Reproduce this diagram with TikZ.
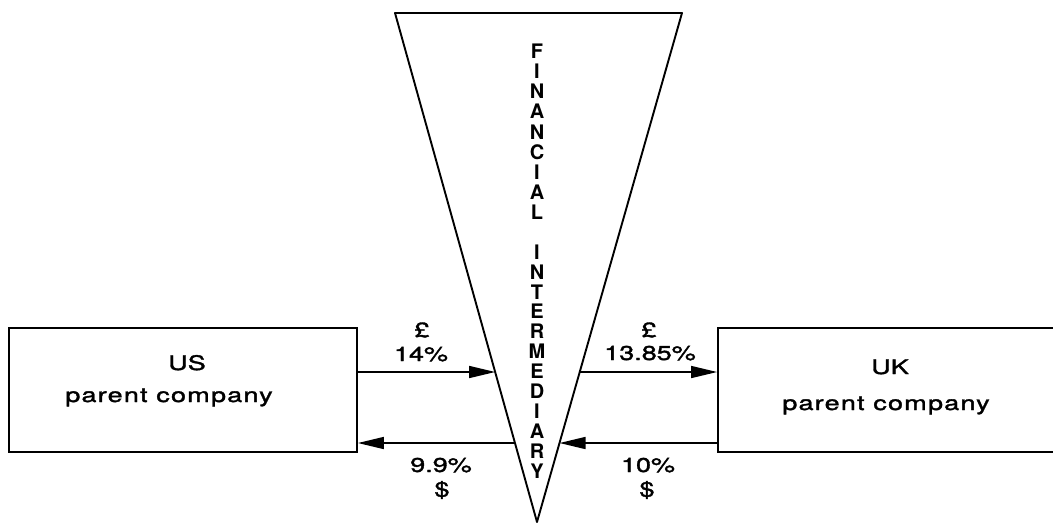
\documentclass[tikz,border=0pt]{standalone}
\usepackage{fontspec}
\setmainfont{TeX Gyre Heros}[FakeStretch=1.35,FakeBold=1.7]
\newfontfamily\pcfont{TeX Gyre Heros}[FakeStretch=1.35,FakeBold=1.7,LetterSpace=6]
\newfontfamily\vfont{TeX Gyre Heros Bold}[FakeStretch=1.0]
\usetikzlibrary{arrows.meta}
\tikzset{
  box/.style={draw, line width=1.8pt, inner sep=0pt, minimum width=348pt, minimum height=124pt},
  lbl/.style={inner sep=0pt, font=\fontsize{20}{24}\selectfont, anchor=base},
  pcl/.style={inner sep=0pt, font=\pcfont\fontsize{20}{24}\selectfont, anchor=base},
  vl/.style={inner sep=0pt, font=\vfont\fontsize{20}{22}\selectfont},
  arr/.style={line width=1.5pt, -{Triangle[length=26pt,width=12pt]}},
  tri/.style={line width=1.9pt, line join=round}
}
\begin{document}
\begin{tikzpicture}[x=1pt,y=-1pt]
\useasboundingbox (0,0) rectangle (1053,524);
% boxes
\node[box] (lbox) at (183,390) {};
\node[box, minimum width=338pt] (rbox) at (887,390) {};
% triangle
\coordinate (tl) at (395,13);
\coordinate (tr) at (682,13);
\coordinate (ap) at (537,522);
\draw[tri] (tl) -- (tr) -- (ap) -- cycle;
% arrow end points on the triangle
\coordinate (u) at (0,372);
\coordinate (u2) at (1000,372);
\coordinate (d) at (0,443);
\coordinate (d2) at (1000,443);
\coordinate (lu) at (intersection of tl--ap and u--u2);
\coordinate (ru) at (intersection of tr--ap and u--u2);
\coordinate (ld) at (intersection of tl--ap and d--d2);
\coordinate (rd) at (intersection of tr--ap and d--d2);
\draw[arr] (lbox.east |- lu) -- (lu);
\draw[arr] (ru) -- (rbox.west |- ru);
\draw[arr] (rbox.west |- rd) -- (rd);
\draw[arr] (ld) -- (lbox.east |- ld);
% box texts
\node[lbl] (us) at (187,370) {US};
\node[pcl] (usp) at (169,402) {parent company};
\node[lbl] (uk) at (890,374) {UK};
\node[pcl] (ukp) at (886,410) {parent company};
% arrow labels
\node[lbl] (p1) at (422,337) {£};
\node[lbl] (r1) at (421,361) {14\%};
\node[lbl] (p2) at (649,337) {£};
\node[lbl] (r2) at (650,360) {13.85\%};
\node[lbl] (r3) at (441,472) {9.9\%};
\node[lbl, anchor=center] (s1) at (442,490) {\$};
\node[lbl] (r4) at (648,472) {10\%};
\node[lbl, anchor=center] (s2) at (647,490) {\$};
% vertical text
\foreach \ch [count=\k from 0] in {F,I,N,A,N,C,I,A,L}
  \node[vl] (fa\k) at (537,{51+20.2*\k}) {\ch};
\foreach \ch [count=\k from 0] in {I,N,T,E,R,M,E,D,I,A,R,Y}
  \node[vl] (im\k) at (537,{252+19.9*\k}) {\ch};
\end{tikzpicture}
\end{document}
